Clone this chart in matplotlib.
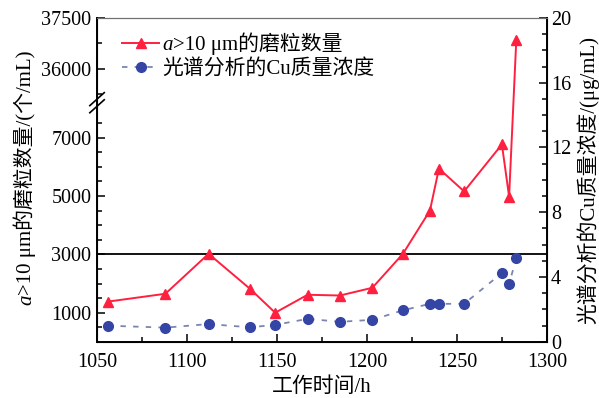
import numpy as np
import matplotlib
matplotlib.use("Agg")
import matplotlib.pyplot as plt
from matplotlib.ticker import FixedLocator, MultipleLocator
from matplotlib.font_manager import FontProperties

plt.rcParams['font.family'] = ['Liberation Serif', 'Noto Sans CJK SC', 'DejaVu Sans']

# data
hours = [1056, 1088, 1112, 1135, 1149, 1167, 1185, 1203, 1220, 1235, 1240, 1254, 1275, 1279, 1283]
particles = [1380, 1650, 3020, 1820, 1000, 1615, 1590, 1855, 3020, 4500, 5940, 5160, 6770, 4980, 36850]
cu_conc = [1.0, 0.88, 1.1, 0.9, 1.05, 1.42, 1.24, 1.36, 1.95, 2.35, 2.35, 2.35, 4.25, 3.6, 5.15]

left_major = [1000, 3000, 5000, 7000, 36000, 37500]
left_minor = [500, 1500, 2000, 2500, 3500, 4000, 4500, 5500, 6000, 6500, 7500, 35250, 36750]

lbl_red = '>10 μm的磨粒数量'
lbl_blue = '光谱分析的Cu质量浓度'
ylab_left = '>10 μm的磨粒数量/(个/mL)'
ylab_right = '光谱分析的Cu质量浓度/(μg/mL)'
xlab = '工作时间/h'

# broken left axis: 0-8200 and 35000-37500
LO, HI = 8200, 35000
K1, K2 = 0.02925, 0.034
B = LO * K1
EPS = 1e-6


def fwd(v):
    v = np.asarray(v, float)
    return np.where(v <= LO, v * K1,
                    np.where(v >= HI, B + (HI - LO) * EPS + (v - HI) * K2,
                             B + (v - LO) * EPS))


def inv(p):
    p = np.asarray(p, float)
    p2 = B + (HI - LO) * EPS
    return np.where(p <= B, p / K1,
                    np.where(p >= p2, HI + (p - p2) / K2,
                             LO + (p - B) / EPS))


FS_TICK = 14.5
FS_LAB = 15
FS_LEG = 15

fig = plt.figure(figsize=(5.99, 3.98), dpi=100)
ax = fig.add_axes([0.162, 0.141, 0.751, 0.814])
ax2 = ax.twinx()

ax.set_yscale('function', functions=(fwd, inv))
ax.set_ylim(0, 37500)
ax.set_xlim(1050, 1300)

ax.axhline(3000, color='black', lw=1.3, zorder=1)
l1, = ax.plot(hours, particles, color='#ff2040', lw=1.4, marker='^', ms=7.5,
              label='a' + lbl_red, zorder=3)
l2, = ax2.plot(hours, cu_conc, color='#7a86b0', lw=1.3, ls=(0, (3, 4)),
               marker='o', ms=7, mfc='#3545a5', mec='#3545a5',
               label=lbl_blue, zorder=3)

ax2.set_ylim(0, 20)
ax2.yaxis.set_major_locator(MultipleLocator(4))
ax2.yaxis.set_minor_locator(MultipleLocator(1))

ax.yaxis.set_major_locator(FixedLocator(left_major))
ax.yaxis.set_minor_locator(FixedLocator(left_minor))
ax.set_yticklabels([str(t) for t in left_major])
ax.xaxis.set_major_locator(MultipleLocator(50))
ax.xaxis.set_minor_locator(MultipleLocator(25))

for a in (ax, ax2):
    a.tick_params(which='both', direction='in', labelsize=FS_TICK, width=1.1)
    a.tick_params(which='major', length=6)
    a.tick_params(which='minor', length=3.5)
ax.tick_params(axis='x', which='both', top=False)
ax.tick_params(axis='x', pad=8)
ax.tick_params(axis='y', pad=4)
ax2.tick_params(axis='y', pad=3)

for s in ('left', 'bottom'):
    ax.spines[s].set_linewidth(1.4)
ax2.spines['right'].set_linewidth(1.4)
ax2.spines['top'].set_color('#707070')
ax.spines['top'].set_color('#707070')

# break marks on the left spine
yb = fwd(LO) / fwd(37500)
for dy in (-0.011, 0.011):
    ax.plot([-0.016, 0.016], [yb + dy - 0.02, yb + dy + 0.02], transform=ax.transAxes,
            color='black', lw=1.2, clip_on=False, zorder=5)

ax.set_xlabel(xlab, fontsize=FS_LAB, labelpad=4)
ax2.set_ylabel(ylab_right, fontsize=FS_LAB, labelpad=4)

leg = ax.legend(handles=[l1, l2], loc='upper left', bbox_to_anchor=(0.055, 0.955),
                frameon=False, fontsize=FS_LEG, handlelength=1.8, handletextpad=0.15,
                labelspacing=0.2, borderpad=0, borderaxespad=0)

# italic "a" in the legend entry and in the left y label
fig.canvas.draw()
r = fig.canvas.get_renderer()
W, H = fig.bbox.width, fig.bbox.height
prop = FontProperties(size=FS_LEG)
iprop = FontProperties(size=FS_LEG, style='italic')

lt = leg.get_texts()[0]
bb = lt.get_window_extent(r)
_, _, d = r.get_text_width_height_descent('a' + lbl_red, prop, ismath=False)
base = bb.y0 + d
lt.set_visible(False)
ta = fig.text(bb.x0 / W, base / H, 'a', fontproperties=iprop, ha='left', va='baseline')
wa = ta.get_window_extent(r).width
fig.text((bb.x0 + wa) / W, base / H, lbl_red, fontsize=FS_LEG, ha='left', va='baseline')

lprop_i = FontProperties(size=FS_LAB, style='italic')
wl, _, _ = r.get_text_width_height_descent(ylab_left, FontProperties(size=FS_LAB), ismath=False)
wa2, _, _ = r.get_text_width_height_descent('a', lprop_i, ismath=False)
xl = 31
yc = ax.bbox.y0 + 0.5 * ax.bbox.height + 2
y0 = yc - 0.5 * (wl + wa2)
fig.text(xl / W, y0 / H, 'a', fontproperties=lprop_i, rotation=90,
         rotation_mode='anchor', ha='left', va='baseline')
fig.text(xl / W, (y0 + wa2) / H, ylab_left, fontsize=FS_LAB, rotation=90,
         rotation_mode='anchor', ha='left', va='baseline')

fig.savefig('out.png', dpi=100)
